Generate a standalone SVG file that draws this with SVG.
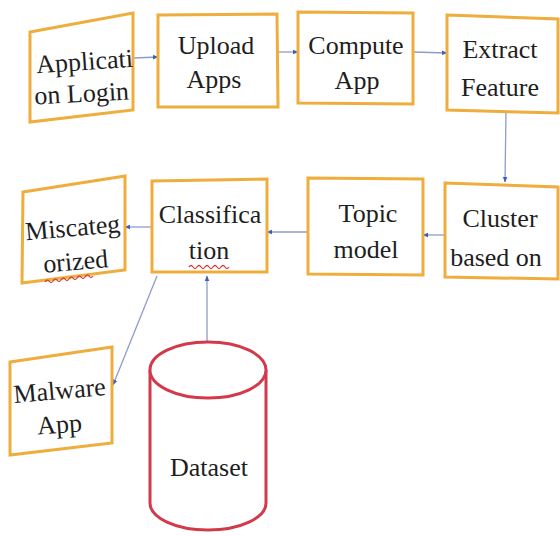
<svg xmlns="http://www.w3.org/2000/svg" width="560" height="536" viewBox="0 0 560 536" font-family="Liberation Serif, Times New Roman, serif">
<defs>
<style>
.box{fill:#fff;stroke:#eead3c;stroke-width:3;stroke-linejoin:miter}
.cyl{fill:#fff;stroke:#d23a4c;stroke-width:3}
.t{font-size:26px;fill:#1e1e1e;text-anchor:middle}
.c{stroke:#8e9cc8;stroke-width:1.3;fill:none;marker-end:url(#ah)}
.wave{stroke:#d04040;stroke-width:1.3;fill:none}
</style>
<marker id="ah" viewBox="0 0 10 10" refX="9" refY="5" markerWidth="6" markerHeight="6" orient="auto" markerUnits="userSpaceOnUse">
<path d="M0,1 L10,5 L0,9 z" fill="#3a5fc0"/>
</marker>
</defs>
<rect width="560" height="536" fill="#fff"/>
<g id="connectors">
<line class="c" x1="134" y1="58" x2="158" y2="57"/>
<line class="c" x1="278" y1="52" x2="298" y2="52"/>
<line class="c" x1="413" y1="52" x2="447" y2="53"/>
<line class="c" x1="506" y1="112" x2="505" y2="182"/>
<line class="c" x1="445" y1="235" x2="423" y2="235"/>
<line class="c" x1="308" y1="232" x2="267" y2="232"/>
<line class="c" x1="152" y1="227" x2="125" y2="227"/>
<line class="c" x1="157" y1="276" x2="113" y2="385"/>
<line class="c" x1="207" y1="368" x2="207" y2="276"/>
</g>
<g id="n-login">
<path class="box" d="M30,32 L133,13 L133,110 L30,122 Z"/>
<text class="t" transform="rotate(-4 85 68)" x="85" y="70">Applicati</text>
<text class="t" transform="rotate(-3 82 100)" x="82" y="102">on Login</text>
</g>
<g id="n-upload">
<path class="box" d="M158,15 L277,14 L278,107 L158,107 Z"/>
<text class="t" x="216" y="54">Upload</text>
<text class="t" x="214" y="88">Apps</text>
</g>
<g id="n-compute">
<path class="box" d="M298,12 L413,13 L413,104 L298,103 Z"/>
<text class="t" x="356" y="54">Compute</text>
<text class="t" x="357" y="89">App</text>
</g>
<g id="n-extract">
<path class="box" d="M447,15 L558,19 L558,113 L447,110 Z"/>
<text class="t" x="500" y="58">Extract</text>
<text class="t" x="500" y="96">Feature</text>
</g>
<g id="n-cluster">
<path class="box" d="M445,183 L558,187 L558,279 L445,277 Z"/>
<text class="t" x="500" y="227">Cluster</text>
<text class="t" x="496" y="266">based on</text>
</g>
<g id="n-topic">
<path class="box" d="M308,178 L423,179 L423,275 L308,274 Z"/>
<text class="t" x="368" y="222">Topic</text>
<text class="t" x="366" y="258">model</text>
</g>
<g id="n-classification">
<path class="box" d="M152,181 L267,179 L267,272 L152,272 Z"/>
<text class="t" x="210" y="223">Classifica</text>
<text class="t" x="209" y="259">tion</text>
<path class="wave" d="M189,267 q2,-3 4,0 q2,3 4,0 q2,-3 4,0 q2,3 4,0 q2,-3 4,0 q2,3 4,0 q2,-3 4,0 q2,3 4,0 q2,-3 4,0 q2,3 4,0"/>
</g>
<g id="n-miscategorized">
<path class="box" d="M23,192 L125,176 L125,270 L22,283 Z"/>
<text class="t" transform="rotate(-5 75 232)" x="73" y="236">Miscateg</text>
<text class="t" transform="rotate(-5 75 267)" x="76" y="270">orized</text>
<path class="wave" d="M45,282 q2,-3 4,-1 q2,3 4,0 q2,-3 4,-1 q2,3 4,0 q2,-3 4,-1 q2,3 4,0 q2,-3 4,-1 q2,3 4,0 q2,-3 4,-1 q2,3 4,0 q2,-3 4,-1 q2,3 4,0"/>
</g>
<g id="n-malware">
<path class="box" d="M10,362 L112,347 L112,443 L10,455 Z"/>
<text class="t" transform="rotate(-5 60 396)" x="60" y="399">Malware</text>
<text class="t" transform="rotate(-4 60 430)" x="60" y="433">App</text>
</g>
<g id="n-dataset">
<path class="cyl" d="M150,370 L150,503 A58,27 0 0 0 266,503 L266,370"/>
<ellipse class="cyl" cx="208" cy="370" rx="58" ry="28"/>
<text class="t" x="209" y="476">Dataset</text>
</g>
</svg>
